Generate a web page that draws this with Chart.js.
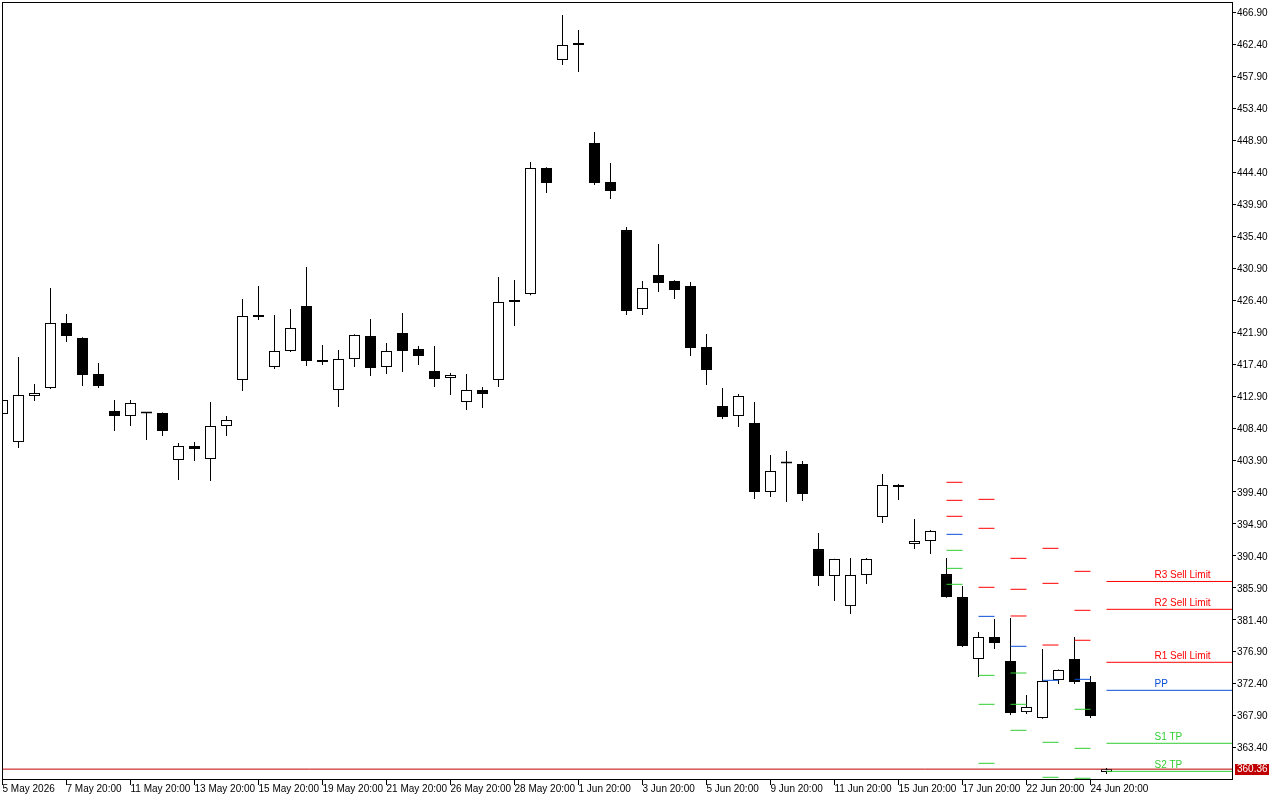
<!DOCTYPE html>
<html><head><meta charset="utf-8">
<script src="https://cdn.jsdelivr.net/npm/chart.js@4.4.1/dist/chart.umd.min.js"></script>
<style>html,body{margin:0;padding:0;background:#fff;}canvas{display:block;}</style>
</head><body>
<canvas id="c" width="1280" height="800"></canvas>
<script>
// ---- data ----
const xTickLabels = ["5 May 2026","7 May 20:00","11 May 20:00","13 May 20:00","15 May 20:00","19 May 20:00","21 May 20:00","26 May 20:00","28 May 20:00","1 Jun 20:00","3 Jun 20:00","5 Jun 20:00","9 Jun 20:00","11 Jun 20:00","15 Jun 20:00","17 Jun 20:00","22 Jun 20:00","24 Jun 20:00"];
const yTickValues = [466.90,462.40,457.90,453.40,448.90,444.40,439.90,435.40,430.90,426.40,421.90,417.40,412.90,408.40,403.90,399.40,394.90,390.40,385.90,381.40,376.90,372.40,367.90,363.40];

const opens  = [410.38,406.43,412.91,414.04,423.20,421.08,416.01,410.80,410.10,410.52,410.52,403.90,405.87,404.04,408.69,415.17,424.04,417.00,419.25,425.59,417.98,413.76,418.12,421.36,417.00,421.79,419.53,416.44,415.45,412.07,413.76,415.17,426.15,427.28,445.03,460.24,462.35,448.55,443.06,436.29,425.17,429.96,429.11,428.41,419.82,411.51,410.10,409.11,399.39,403.48,403.34,391.36,387.56,383.33,387.70,395.87,400.38,392.07,392.49,387.84,384.60,375.87,378.97,375.59,368.40,367.56,372.91,375.87,372.63,359.95];
const highs  = [412.50,418.41,414.60,428.13,424.46,421.20,417.56,412.35,412.35,410.60,410.60,406.29,406.43,412.07,410.10,426.58,428.41,424.32,425.17,431.08,420.10,419.39,421.60,423.76,420.38,424.60,419.96,419.96,416.15,416.01,414.18,429.67,429.25,445.87,445.15,466.58,464.46,450.10,445.73,436.72,429.11,434.32,429.20,428.97,421.65,414.04,413.20,412.07,404.60,405.17,403.76,393.62,390.00,390.10,390.10,401.93,400.52,395.59,394.04,390.10,386.15,379.67,381.50,381.64,370.80,377.28,374.40,378.97,373.48,360.52];
const lows   = [410.20,405.59,412.21,413.90,420.52,414.32,414.04,407.98,408.69,406.72,407.28,401.08,403.76,400.94,407.28,413.62,423.62,416.72,419.10,417.14,417.28,411.36,417.00,415.73,416.01,416.29,417.28,414.18,413.05,410.94,411.22,414.18,422.77,427.10,441.51,459.53,458.55,442.63,440.66,424.32,424.32,427.56,426.58,418.55,414.46,409.67,408.55,398.41,398.69,397.98,398.12,386.15,384.04,382.21,386.43,395.03,398.26,391.36,390.66,384.50,377.56,373.33,377.28,367.98,368.12,367.45,372.35,372.35,367.56,359.67];
const closes = [412.35,413.05,413.34,423.20,421.36,415.87,414.32,410.10,411.93,410.45,407.98,405.87,405.45,408.69,409.53,424.18,424.10,419.25,422.49,417.84,417.70,418.12,421.51,416.86,419.25,419.25,418.55,415.31,415.87,413.76,413.20,426.15,426.43,445.03,442.91,462.35,462.63,442.91,441.79,424.89,428.13,428.83,427.84,419.67,416.58,409.96,412.91,399.39,402.35,403.40,399.11,387.56,389.95,387.70,389.95,400.38,400.10,392.49,393.90,384.60,377.70,378.97,378.12,368.26,369.11,372.77,374.32,372.63,367.84,360.36];

// daily pivot levels: candle index where each set starts / ends (null = extends to the right edge)
const pivotFrom = [59, 61, 63, 65, 67, 69];
const pivotTo   = [60, 62, 64, 66, 68, null];
const levelR3 = [400.76, 398.36, 390.05, 391.46, 388.22, 386.79];
const levelR2 = [398.22, 394.28, 385.69, 386.53, 382.73, 382.87];
const levelR1 = [395.97, 385.97, 381.93, 377.84, 378.51, 375.41];
const levelPP = [393.43, 381.88, 377.66, 372.87, 373.01, 371.46];
const levelS1 = [391.18, 373.57, 373.90, 364.14, 368.79, 364.00];
const levelS2 = [388.64, 369.49, 369.49, 359.21, 363.29, 360.05];
const levelS3 = [386.39, 361.18, 365.83, null, 359.07, null];
const currentLabels = ["R3 Sell Limit","R2 Sell Limit","R1 Sell Limit","PP","S1 TP","S2 TP"];
const currentPrice = 360.36;

// ---- styles ----
const RED = '#ff0000', BLUE = '#0a50d7', GREEN = '#32cd32', BIDRED = '#c00000';
const FONT = '"Liberation Sans", Arial, sans-serif';
const X_MIN = -0.03125, X_MAX = 76.84375;
const Y_MIN = 358.83, Y_MAX = 468.407;

const wickData = highs.map((h, i) => ({x: i, y: [lows[i], h]}));
const bodyData = opens.map((o, i) => ({x: i, y: [o, closes[i]]}));
const bodyColors = opens.map((o, i) => closes[i] >= o ? '#ffffff' : '#000000');

function levelSegments(arr) {
  const pts = [];
  arr.forEach((v, g) => {
    if (v === null) return;
    const to = pivotTo[g] === null ? X_MAX : pivotTo[g];
    pts.push({x: pivotFrom[g], y: v}, {x: to, y: v}, {x: to, y: null});
  });
  return pts;
}
function lineDs(arr, color) {
  return {type: 'line', data: levelSegments(arr), borderColor: color, borderWidth: 1,
    pointRadius: 0, spanGaps: false, fill: false, order: 0, tension: 0};
}

const framePlugin = {
  id: 'frame',
  afterDraw(chart) {
    const {ctx, chartArea: a, scales} = chart;
    ctx.save();
    ctx.strokeStyle = '#000'; ctx.lineWidth = 1;
    ctx.strokeRect(a.left + 0.5, a.top + 0.5, a.right - a.left, a.bottom - a.top - 1);
    // labels for the current pivot lines
    const cur = [levelR3, levelR2, levelR1, levelPP, levelS1, levelS2].map(l => l[l.length - 1]);
    const cols = [RED, RED, RED, BLUE, GREEN, GREEN];
    ctx.font = '10px ' + FONT;
    ctx.textBaseline = 'alphabetic'; ctx.textAlign = 'left';
    const lx = scales.x.getPixelForValue(72);
    cur.forEach((v, k) => {
      ctx.fillStyle = cols[k];
      ctx.fillText(currentLabels[k], lx, scales.y.getPixelForValue(v) - 3);
    });
    // current price tag
    const py = scales.y.getPixelForValue(currentPrice);
    ctx.fillStyle = BIDRED;
    ctx.fillRect(a.right + 3, Math.round(py) - 5, 34, 11);
    ctx.fillStyle = '#fff';
    ctx.textBaseline = 'middle';
    ctx.fillText(currentPrice.toFixed(2), a.right + 5, Math.round(py) + 0.5);
    ctx.restore();
  }
};

new Chart(document.getElementById('c'), {
  type: 'bar',
  data: {
    datasets: [
      lineDs(levelR3, RED), lineDs(levelR2, RED), lineDs(levelR1, RED),
      lineDs(levelPP, BLUE),
      lineDs(levelS1, GREEN), lineDs(levelS2, GREEN), lineDs(levelS3, GREEN),
      {type: 'bar', data: bodyData, backgroundColor: bodyColors, borderColor: '#000', borderWidth: 1,
        borderSkipped: false, barThickness: 11, grouped: false, minBarLength: 2, order: 1, inflateAmount: 0},
      {type: 'bar', data: wickData, backgroundColor: '#000', borderWidth: 0,
        barThickness: 1, grouped: false, order: 2, inflateAmount: 0},
      {type: 'line', data: [{x: X_MIN, y: currentPrice}, {x: X_MAX, y: currentPrice}], borderColor: BIDRED,
        borderWidth: 1, pointRadius: 0, order: 3}
    ]
  },
  options: {
    responsive: false, animation: false, devicePixelRatio: 1,
    layout: {padding: {left: 2, top: 2, right: 0, bottom: 0}},
    plugins: {legend: {display: false}, tooltip: {enabled: false}},
    scales: {
      x: {
        type: 'linear', position: 'bottom', min: X_MIN, max: X_MAX, offset: false,
        afterFit(s) { s.height = 20; s.paddingLeft = 0; s.paddingRight = 0; },
        afterBuildTicks(s) { s.ticks = xTickLabels.map((_, k) => ({value: k * 4})); },
        ticks: {autoSkip: false, maxRotation: 0, align: 'start', padding: -2, color: '#000',
          font: {family: FONT, size: 10},
          callback: (v) => xTickLabels[Math.round(v / 4)]},
        grid: {drawOnChartArea: false, drawTicks: true, tickLength: 5, color: '#000', offset: false},
        border: {display: false}
      },
      y: {
        type: 'linear', position: 'right', min: Y_MIN, max: Y_MAX,
        afterFit(s) { s.width = 48; s.paddingTop = 0; s.paddingBottom = 0; },
        afterBuildTicks(s) { s.ticks = yTickValues.map(v => ({value: v})); },
        ticks: {padding: 1, labelOffset: 1, color: '#000', font: {family: FONT, size: 10},
          callback: (v) => Number(v).toFixed(2)},
        grid: {drawOnChartArea: false, drawTicks: true, tickLength: 4, color: '#000'},
        border: {display: false}
      }
    }
  },
  plugins: [framePlugin]
});
</script>
</body></html>
